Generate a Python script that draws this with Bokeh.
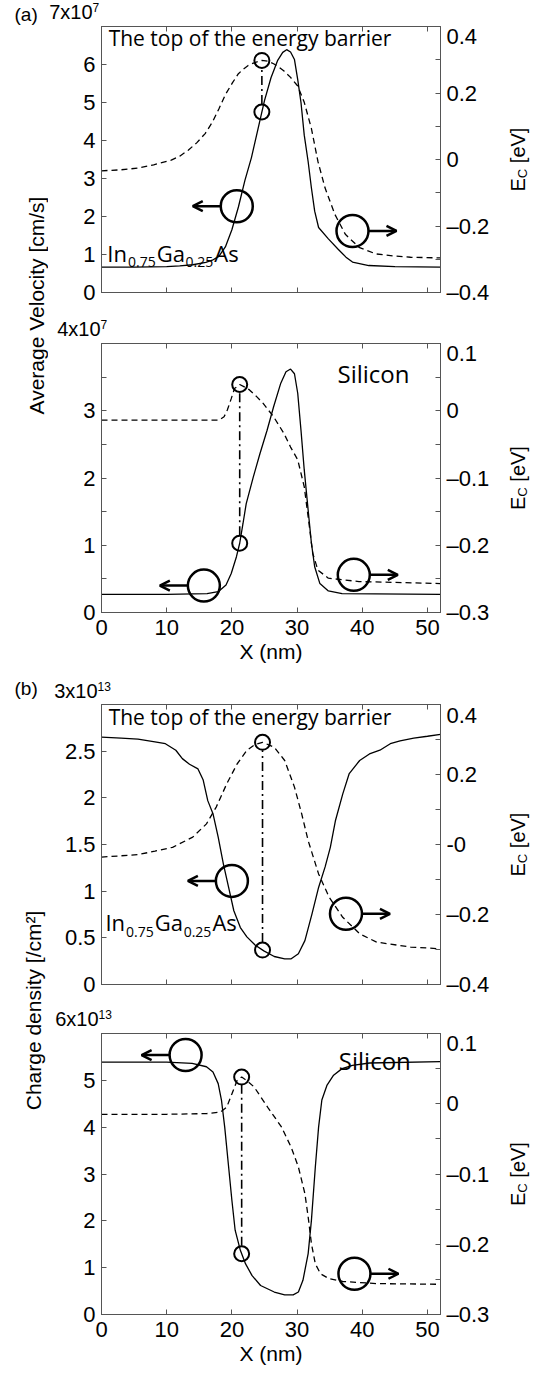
import math
import numpy as np
from bokeh.plotting import figure
from bokeh.models import Range1d, LinearAxis, FixedTicker, Label, Arrow, OpenHead
from bokeh.layouts import row, column
from bokeh.embed import file_html
from bokeh.resources import INLINE

# ---------------- data (x in nm) ----------------
X_TICKS = [0, 10, 20, 30, 40, 50]

# (a) top: In0.75Ga0.25As, average velocity [1e7 cm/s]
ingaas_vel_x = [0, 5, 10, 12, 14, 16, 17, 18, 19, 20, 21, 22, 23, 24, 25, 26, 27, 27.8, 28.4,
                29.0, 29.6, 30.1, 30.6, 31.1, 31.7, 32.2, 32.7, 33.3, 34.8, 36.3, 37.5, 38.5, 41, 45, 52]
ingaas_vel = [0.67, 0.67, 0.68, 0.70, 0.73, 0.79, 0.85, 0.95, 1.2, 1.65, 2.25, 2.95, 3.55, 4.3, 5.05,
              5.65, 6.1, 6.32, 6.39, 6.33, 6.13, 5.6, 5.0, 4.14, 3.44, 2.75, 2.14, 1.71, 1.41, 1.14,
              0.93, 0.80, 0.71, 0.68, 0.67]
ingaas_ec1_x = [0, 3, 5.5, 8, 10.7, 12, 13.3, 14.6, 15.9, 17, 18, 19, 20.1, 21, 21.7, 22.5, 23.3,
                24.6, 25.5, 26.4, 27.2, 28.0, 29, 30.1, 31.1, 32.2, 33.2, 34.3, 35.8, 37.4, 39.5,
                42.1, 44.8, 47.4, 52]
ingaas_ec1 = [-0.034, -0.031, -0.026, -0.016, -0.002, 0.010, 0.028, 0.050, 0.078, 0.112, 0.152,
              0.195, 0.231, 0.258, 0.271, 0.283, 0.290, 0.298, 0.296, 0.288, 0.278, 0.266, 0.247,
              0.221, 0.172, 0.093, -0.006, -0.086, -0.165, -0.225, -0.264, -0.284, -0.290, -0.294,
              -0.296]

# (a) bottom: Silicon, average velocity [1e7 cm/s]
si_vel_x = [0, 10, 16.2, 17.9, 19.1, 19.9, 20.7, 21.2, 21.7, 22.2, 23.3, 24.3, 25.4, 26.4, 27.5,
            28.3, 29.0, 29.6, 30.1, 30.6, 31.1, 31.7, 32.2, 32.7, 33.5, 34.8, 36.9, 52]
si_vel = [0.27, 0.27, 0.28, 0.31, 0.41, 0.58, 0.83, 1.03, 1.32, 1.62, 2.02, 2.36, 2.71, 3.06, 3.41,
          3.58, 3.62, 3.55, 3.26, 2.71, 2.12, 1.52, 1.03, 0.68, 0.43, 0.32, 0.28, 0.27]
si_ec1_x = [0, 10, 18.0, 18.8, 19.3, 19.9, 20.4, 21.2, 22.0, 22.7, 23.8, 24.8, 26.4, 28.0, 29.0,
            30.1, 31.1, 31.9, 32.4, 33.2, 34.8, 39.5, 52]
si_ec1 = [-0.014, -0.014, -0.014, -0.009, 0.001, 0.018, 0.033, 0.039, 0.035, 0.031, 0.021, 0.011,
          -0.009, -0.034, -0.054, -0.073, -0.113, -0.173, -0.212, -0.237, -0.249, -0.254, -0.257]

# (b) top: In0.75Ga0.25As, charge density [1e13 /cm^2]
ingaas_n_x = [0, 3, 5.6, 8.2, 9.8, 11.4, 12.4, 13.5, 14.8, 15.6, 16.3, 17.1, 17.9, 18.7, 19.5,
              20.3, 21.3, 22.3, 23.6, 24.9, 26.5, 28.1, 29.1, 30.2, 31.2, 32.3, 33.3, 34.3, 35.1,
              35.9, 37.0, 38.0, 39.6, 41.1, 42.7, 44.3, 45.8, 47.9, 50.0, 52]
ingaas_n = [2.65, 2.64, 2.63, 2.60, 2.58, 2.51, 2.42, 2.36, 2.31, 2.19, 1.97, 1.83, 1.58, 1.29,
            1.04, 0.79, 0.61, 0.51, 0.42, 0.36, 0.30, 0.275, 0.275, 0.33, 0.47, 0.76, 1.04, 1.26,
            1.47, 1.76, 2.04, 2.26, 2.40, 2.47, 2.51, 2.58, 2.61, 2.64, 2.66, 2.68]
ingaas_ec2_x = [0, 5.6, 8.2, 10.9, 14.0, 16.1, 17.6, 19.2, 20.8, 22.3, 23.5, 24.7, 26.5, 28.1,
                29.6, 30.7, 31.7, 33.3, 34.9, 37.0, 39.6, 42.2, 47.4, 52]
ingaas_ec2 = [-0.036, -0.029, -0.019, -0.008, 0.021, 0.059, 0.107, 0.173, 0.230, 0.269, 0.285,
              0.292, 0.278, 0.240, 0.164, 0.088, 0.011, -0.084, -0.150, -0.208, -0.255, -0.279,
              -0.293, -0.298]

# (b) bottom: Silicon, charge density [1e13 /cm^2]
si_n_x = [0, 10, 13.9, 16.1, 17.1, 17.9, 18.4, 18.9, 19.5, 20.0, 20.5, 21.3, 22.1, 23.1, 24.4,
          26.5, 28.1, 29.4, 30.2, 30.9, 31.7, 32.2, 32.8, 33.3, 33.8, 34.6, 35.6, 36.9, 38.5, 41.1, 52]
si_n = [5.39, 5.39, 5.36, 5.29, 5.18, 4.93, 4.58, 4.0, 3.15, 2.44, 1.80, 1.37, 1.08, 0.83, 0.62,
        0.48, 0.42, 0.42, 0.48, 0.73, 1.3, 2.01, 3.15, 4.0, 4.58, 4.9, 5.11, 5.25, 5.32, 5.37, 5.40]
si_ec2_x = [0, 10, 16.1, 18.2, 19.2, 20.0, 20.8, 21.5, 22.3, 23.4, 25.5, 27.6, 29.1, 30.2, 31.2,
            31.7, 32.2, 32.8, 33.6, 34.9, 37.0, 42.2, 52]
si_ec2 = [-0.015, -0.015, -0.014, -0.012, -0.005, 0.014, 0.033, 0.038, 0.033, 0.024, -0.005,
          -0.033, -0.062, -0.090, -0.128, -0.161, -0.199, -0.228, -0.242, -0.249, -0.253, -0.256,
          -0.257]

# ---------------- layout / style ----------------
AX = "#555555"
TICK_FONT = "Liberation Sans"
ANN_FONT = "Open Sans"
DASH = "\u2013"
MID_LIB = 0.31    # em distance baseline -> "middle" (Liberation Sans)
MID_OPEN = 0.285  # same for Open Sans

W_LEFT = 48          # strip with shared y labels and panel letters
W_RIGHT = 43         # strip with the E_C labels
W_P = 538 - W_LEFT - W_RIGHT
BL, BR = 53, 55
FRAME_W = W_P - BL - BR
X_MAX = 52
PX_NM = FRAME_W / X_MAX
TOTAL_H = 1372

OPEN_W = {"I": .278, "n": .614, "G": .711, "a": .556, "A": .633, "s": .477, ".": .266}


def text_w(s, size):
    return sum(OPEN_W.get(c, .572) for c in s) * size


def strip(width, height):
    f = figure(width=width, height=height, x_range=Range1d(0, width), y_range=Range1d(0, height),
               x_axis_type=None, y_axis_type=None, min_border=0, output_backend="svg",
               toolbar_location=None)
    f.outline_line_color = None
    f.frame_align = False
    return f


def style_axis(ax, ticks, minor=(), labels=None, show=True):
    ax.ticker = FixedTicker(ticks=list(ticks), minor_ticks=list(minor))
    ax.major_tick_in = 5
    ax.major_tick_out = 0
    ax.minor_tick_in = 5
    ax.minor_tick_out = 0
    ax.axis_line_color = AX
    ax.major_tick_line_color = AX
    ax.minor_tick_line_color = AX
    ax.major_label_text_font = TICK_FONT
    if show:
        ax.major_label_text_color = "black"
        ax.major_label_text_font_size = "22px"
        ax.major_label_standoff = 6
        if labels:
            ax.major_label_overrides = labels
    else:
        ax.major_label_text_color = None
        ax.major_label_text_font_size = "0px"
        ax.major_label_standoff = 0


def lab_fmt(v):
    if abs(v) < 1e-12:
        return "0"
    return (DASH if v < 0 else "") + ("%g" % abs(v))


def ann(x, y, text, size, dx=0.0, dy=0.0, **kw):
    """Label whose alphabetic baseline sits at (x, y) + (dx, dy) px."""
    return Label(x=x, y=y, x_offset=dx, y_offset=dy + MID_OPEN * size, text=text,
                 text_font=ANN_FONT, text_font_size=f"{size}px", text_baseline="middle",
                 text_color="black", **kw)


def make_panel(cfg):
    h, bt, bb = cfg["layout"]
    frame_h = h - bt - bb
    yl0, yl1 = cfg["yl"]
    yr0, yr1 = cfg["yr"]
    p = figure(width=W_P, height=h, x_range=Range1d(0, X_MAX), y_range=Range1d(yl0, yl1),
               output_backend="svg", toolbar_location=None, title=None,
               min_border_left=BL, min_border_right=BR, min_border_top=bt, min_border_bottom=bb)
    p.extra_y_ranges = {"ec": Range1d(yr0, yr1)}
    p.grid.visible = False
    p.outline_line_color = AX
    p.outline_line_width = 1

    right = LinearAxis(y_range_name="ec")
    p.add_layout(right, "right")
    top = LinearAxis()
    p.add_layout(top, "above")

    bottom = p.below[0]
    left = p.left[0]
    style_axis(left, cfg["lt"], cfg["lm"], {t: lab_fmt(t) for t in cfg["lt"]})
    rlabels = {t: lab_fmt(t) for t in cfg["rt"]}
    rlabels.update(cfg.get("rover", {}))
    style_axis(right, cfg["rt"], cfg["rm"], rlabels)
    style_axis(top, X_TICKS, (), None, show=False)
    style_axis(bottom, X_TICKS, (), {t: str(t) for t in X_TICKS}, show=cfg["xlab"])
    if cfg["xlab"]:
        bottom.axis_label = "X (nm)"
        bottom.axis_label_text_font = TICK_FONT
        bottom.axis_label_text_font_size = "21px"
        bottom.axis_label_text_font_style = "normal"
        bottom.axis_label_text_color = "black"
        bottom.axis_label_standoff = 2
        bottom.major_label_standoff = 7

    # curves
    xs, ys = cfg["solid"]
    xe, ye = cfg["dashed"]
    p.line(xs, ys, line_color="black", line_width=1.3)
    p.line(xe, ye, line_color="black", line_width=1.3, line_dash="6 4", y_range_name="ec")

    # top-of-the-barrier markers, joined by a dash-dot line
    i = int(np.argmax(ye))
    xp, ep = xe[i], ye[i]
    vp = float(np.interp(xp, xs, ys))
    upp = (yl1 - yl0) / frame_h
    ep_left = yl0 + (ep - yr0) / (yr1 - yr0) * (yl1 - yl0)
    p.segment(x0=[xp], y0=[vp + 8 * upp], x1=[xp], y1=[ep_left - 8 * upp],
              line_color="black", line_width=1.6, line_dash="9 4 2 4")
    p.scatter([xp], [ep], y_range_name="ec", marker="circle", size=15, fill_color=None,
              line_color="black", line_width=2)
    p.scatter([xp], [vp], marker="circle", size=15, fill_color=None,
              line_color="black", line_width=2)

    # big circles with arrows pointing to the relevant axis
    r_nm = 16 / PX_NM
    L_nm = 28 / PX_NM
    for (cx, cy, rng, d) in cfg["circles"]:
        rn = "ec" if rng == "r" else "default"
        p.scatter([cx], [cy], y_range_name=rn, marker="circle", size=32, fill_color=None,
                  line_color="black", line_width=2.5)
        p.add_layout(Arrow(end=OpenHead(size=10, line_width=2.5, line_color="black"),
                           x_start=cx + d * r_nm, y_start=cy, x_end=cx + d * (r_nm + L_nm), y_end=cy,
                           line_width=2.5, line_color="black", y_range_name=rn))

    # annotations inside the frame
    for kind, ax_, ay_ in cfg["texts"]:
        if kind == "top":
            p.add_layout(ann(ax_, ay_, "The top of the energy barrier", 21))
        elif kind == "si":
            p.add_layout(ann(ax_, ay_, "Silicon", 24))
        elif kind == "chem":
            off = 0
            for txt, size, dy in [("In", 22, 0), ("0.75", 14, -7), ("Ga", 22, 0), ("0.25", 14, -7),
                                  ("As", 22, 0)]:
                p.add_layout(ann(ax_, ay_, txt, size, dx=off, dy=dy))
                off += text_w(txt, size) + 1
    return p


def make_header(height, main, sup, right_page_x, base):
    f = strip(W_P, height)
    xr = right_page_x - W_LEFT
    f.add_layout(Label(x=xr, y=base + MID_LIB * 20, text=main, text_align="right",
                       text_baseline="middle", text_font=TICK_FONT, text_font_size="20px",
                       text_color="black"))
    f.add_layout(Label(x=xr, y=base + 7 + MID_LIB * 12, text=sup, text_align="left",
                       text_baseline="middle", text_font=TICK_FONT, text_font_size="12px",
                       text_color="black"))
    return f


panels = [
    dict(hdr=(23, "7x10", "7", 92, 5), layout=(294, 3, 25), yl=(0, 7), yr=(-0.4, 0.4),
         lt=[0, 1, 2, 3, 4, 5, 6], lm=[], rt=[-0.4, -0.2, 0, 0.2, 0.4], rm=[-0.3, -0.1, 0.1, 0.3],
         xlab=False, solid=(ingaas_vel_x, ingaas_vel), dashed=(ingaas_ec1_x, ingaas_ec1),
         circles=[(20.75, 2.27, "l", -1), (38.5, -0.215, "r", 1)],
         texts=[("top", 1.1, 6.54), ("chem", 0.9, 0.88)]),
    dict(hdr=(23, "4x10", "7", 100, 5), layout=(339, 3, 67), yl=(0, 4), yr=(-0.3, 0.1),
         lt=[0, 1, 2, 3], lm=[0.5, 1.5, 2.5, 3.5], rt=[-0.3, -0.2, -0.1, 0, 0.1],
         rm=[-0.25, -0.15, -0.05, 0.05],
         xlab=True, solid=(si_vel_x, si_vel), dashed=(si_ec1_x, si_ec1),
         circles=[(15.7, 0.40, "l", -1), (38.7, -0.244, "r", 1)],
         texts=[("si", 36.2, 3.45)]),
    dict(hdr=(23, "3x10", "13", 97, 5), layout=(298, 2, 16), yl=(0, 3), yr=(-0.4, 0.4),
         lt=[0, 0.5, 1, 1.5, 2, 2.5], lm=[], rt=[-0.4, -0.2, 0, 0.2, 0.4], rm=[-0.3, -0.1, 0.1, 0.3],
         rover={0: "-0"},
         xlab=False, solid=(ingaas_n_x, ingaas_n), dashed=(ingaas_ec2_x, ingaas_ec2),
         circles=[(20.0, 1.11, "l", -1), (37.5, -0.198, "r", 1)],
         texts=[("top", 1.1, 2.80), ("chem", 0.6, 0.60)]),
    dict(hdr=(30, "6x10", "13", 98, 5), layout=(342, 3, 58), yl=(0, 6), yr=(-0.3, 0.1),
         lt=[0, 1, 2, 3, 4, 5], lm=[], rt=[-0.3, -0.2, -0.1, 0, 0.1],
         rm=[-0.25, -0.15, -0.05, 0.05],
         xlab=True, solid=(si_n_x, si_n), dashed=(si_ec2_x, si_ec2),
         circles=[(12.9, 5.54, "l", -1), (38.8, -0.242, "r", 1)],
         texts=[("si", 36.4, 5.27)]),
]

children = []
ec_centers = []
page_y = 0
for c in panels:
    hh, main, sup, rx, base = c["hdr"]
    children.append(make_header(hh, main, sup, rx, base))
    page_y += hh
    h, bt, bb = c["layout"]
    children.append(make_panel(c))
    ec_centers.append(page_y + bt + (h - bt - bb) / 2)
    page_y += h

# ---- left strip: panel letters and shared y-axis titles
left_strip = strip(W_LEFT, TOTAL_H)


def fy(py):
    return TOTAL_H - py


left_strip.add_layout(Label(x=14, y=fy(20) + MID_LIB * 19, text="(a)", text_font=TICK_FONT,
                            text_font_size="19px", text_baseline="middle", text_color="black"))
left_strip.add_layout(Label(x=14, y=fy(694) + MID_LIB * 19, text="(b)", text_font=TICK_FONT,
                            text_font_size="19px", text_baseline="middle", text_color="black"))
left_strip.add_layout(Label(x=36, y=fy(305), text="Average Velocity [cm/s]", angle=math.pi / 2,
                            text_align="center", text_baseline="middle", text_font=TICK_FONT,
                            text_font_size="21px", text_color="black"))
left_strip.add_layout(Label(x=33, y=fy(1010), text="Charge density [/cm\u00b2]", angle=math.pi / 2,
                            text_align="center", text_baseline="middle", text_font=TICK_FONT,
                            text_font_size="21px", text_color="black"))

# ---- right strip: E_C [eV] for each panel
right_strip = strip(W_RIGHT, TOTAL_H)
for cy in ec_centers:
    base = fy(cy) - 32
    for txt, size, dx, dy in [("E", 20, 0, 0), ("C", 13, 5, 20 * .667),
                              ("[eV]", 20, 0, 20 * .667 + 13 * .722 + 5.6)]:
        right_strip.add_layout(Label(x=22 + dx, y=base + dy, text=txt, angle=math.pi / 2,
                                     text_align="left", text_baseline="middle", text_font=TICK_FONT,
                                     text_font_size=f"{size}px", text_color="black"))

layout = row(left_strip, column(*children), right_strip)
open("out.html", "w").write(file_html(layout, INLINE, title="Velocity and charge density"))
